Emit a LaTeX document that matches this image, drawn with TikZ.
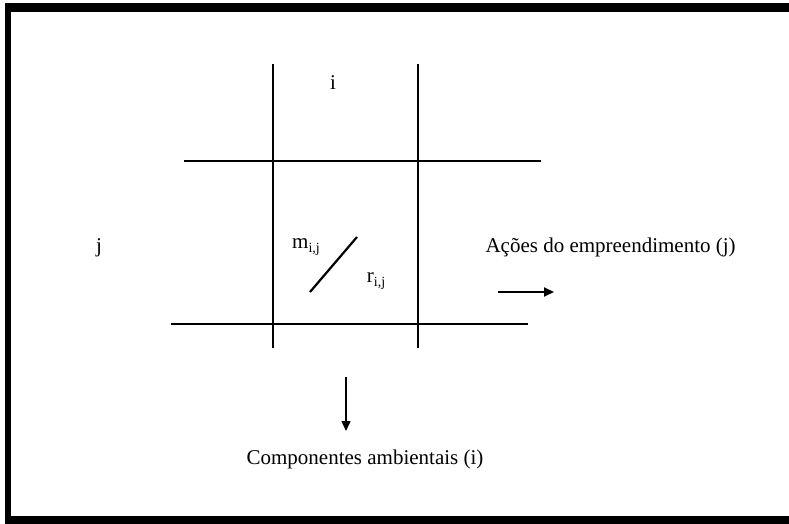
\documentclass[tikz,border=0pt]{standalone}
\usepackage{fontspec}
\setmainfont{Liberation Serif}
\usetikzlibrary{arrows.meta,positioning}
\newcommand{\idx}[1]{\raisebox{-0.5ex}{\fontsize{14}{14}\selectfont #1}}

\begin{document}
\begin{tikzpicture}[x=1pt,y=-1pt, font=\fontsize{21}{24}\selectfont,
  grid/.style={line width=2.6pt},
  flow/.style={line width=1.9pt,-{Triangle[length=10pt,width=9pt]}}]
\useasboundingbox (0,0) rectangle (789,524);
% frame
\fill[black] (5,3) rectangle (789,12);
\fill[black] (5,3) rectangle (11,524);
\fill[black] (5,516) rectangle (789,524);
% matrix lines
\draw[grid] (273,64) -- (273,348);
\draw[grid] (418,64) -- (418,348);
\draw[grid] (184,161) -- (541,161);
\draw[grid] (171,324) -- (528,324);
% labels
\node (i) at (333,83) {i};
\node (j) at (99,248) {j};
\node (m) at (306,247) {m\idx{i,j}};
\node (r) at (376,281) {r\idx{i,j}};
\coordinate (s1) at (310,292);
\coordinate (s2) at (357,237);
\draw[line width=2.2pt] (s1) -- (s2);
\node[anchor=west] (acoes) at (482,247) {Ações do empreendimento (j)};
\node (comp) at (365,459) {Componentes ambientais (i)};
% arrows
\coordinate (a1) at (498,292);
\coordinate (a2) at (554,292);
\draw[flow] (a1) -- (a2);
\coordinate (d1) at (346,377);
\coordinate (d2) at (346,431);
\draw[flow, line width=1.4pt] (d1) -- (d2);
\end{tikzpicture}
\end{document}
